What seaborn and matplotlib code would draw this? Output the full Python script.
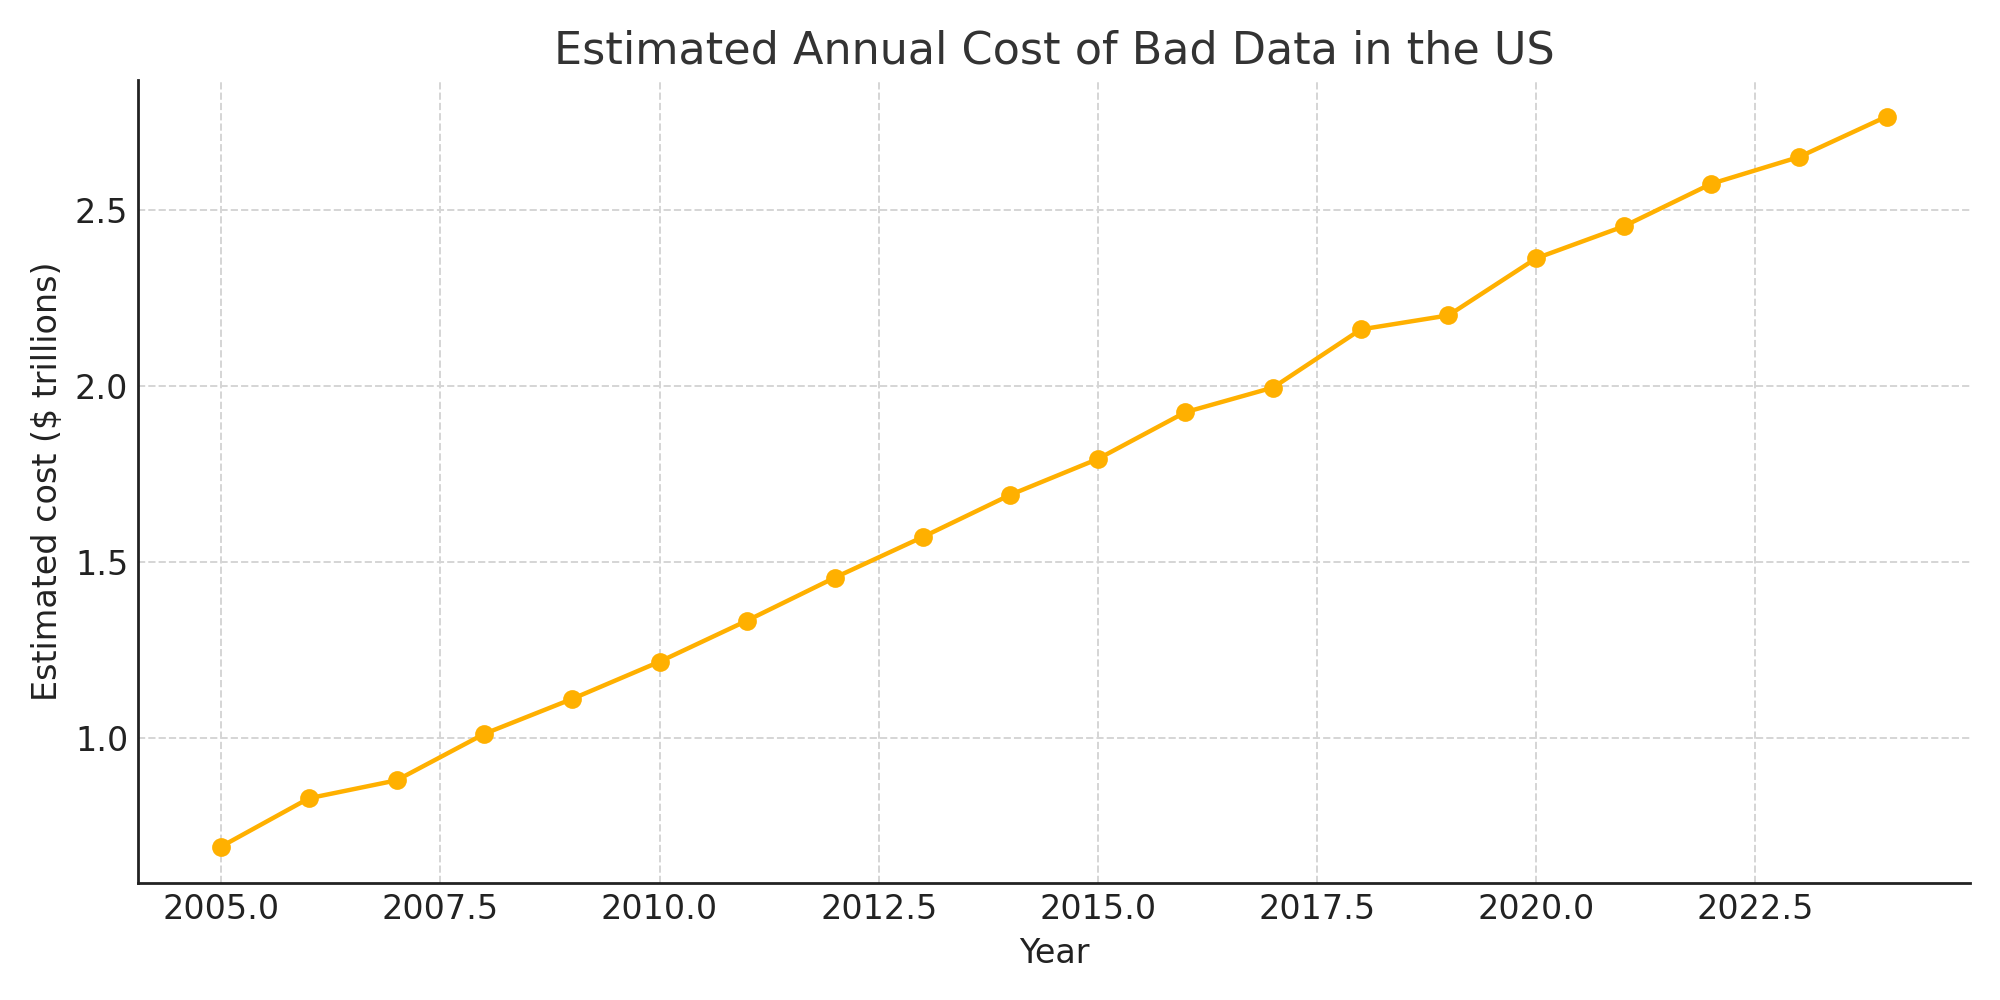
import numpy as np
import pandas as pd
import seaborn as sns
import matplotlib
matplotlib.use("Agg")
import matplotlib.pyplot as plt

years = list(range(2005, 2025))
cost_trillions = [0.692, 0.829, 0.880, 1.012, 1.111, 1.217, 1.334, 1.456, 1.571, 1.691,
                  1.793, 1.926, 1.996, 2.161, 2.201, 2.363, 2.454, 2.575, 2.651, 2.766]

df = pd.DataFrame({"Year": years, "Cost": cost_trillions})

sns.set_style("white")
plt.rcParams['font.family'] = ['DejaVu Sans']
plt.rcParams['xtick.direction'] = 'in'
plt.rcParams['ytick.direction'] = 'in'

fig, ax = plt.subplots(figsize=(10, 5), dpi=200)

sns.lineplot(data=df, x="Year", y="Cost", marker="o", color="#FFB000",
             linewidth=1.6, markersize=6, markeredgecolor="#FFB000", ax=ax)

# light dashed grid
ax.grid(True, linestyle="--", color="#d5d5d5", linewidth=0.7)
sns.despine(ax=ax)
for s in ["left", "bottom"]:
    ax.spines[s].set_color("#222222")
    ax.spines[s].set_linewidth(1.0)
ax.tick_params(axis="both", labelsize=12, colors="#222222", length=4)
ax.set_xticks([2005.0, 2007.5, 2010.0, 2012.5, 2015.0, 2017.5, 2020.0, 2022.5])
ax.set_xticklabels(["2005.0", "2007.5", "2010.0", "2012.5", "2015.0", "2017.5", "2020.0", "2022.5"])
ax.set_yticks([1.0, 1.5, 2.0, 2.5])
ax.set_yticklabels(["1.0", "1.5", "2.0", "2.5"])

ax.set_title("Estimated Annual Cost of Bad Data in the US", fontsize=16, color="#333333")
ax.set_xlabel("Year", fontsize=12, color="#222222")
ax.set_ylabel("Estimated cost ($ trillions)", fontsize=12, color="#222222")

fig.subplots_adjust(left=0.069, right=0.985, top=0.92, bottom=0.117)
fig.savefig("out.png")
